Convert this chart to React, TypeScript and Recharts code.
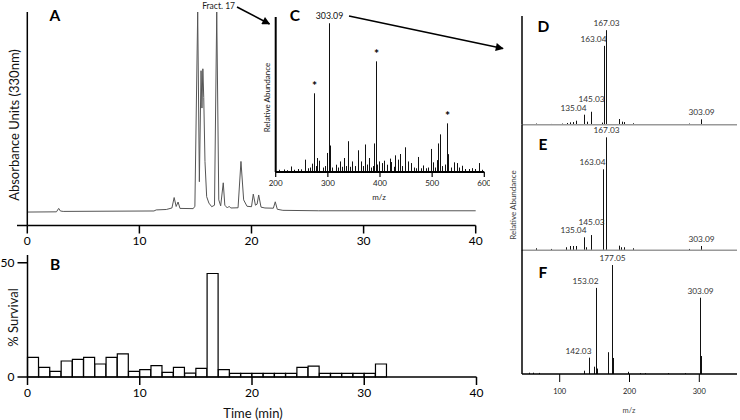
import { LineChart, Line, BarChart, Bar, XAxis, YAxis, LabelList } from "recharts";

const FONT = "Lato, 'Open Sans', sans-serif";

// A - UV trace at 330 nm (time in min, absorbance in arbitrary units)
const traceTime = [
  0, 2.6, 2.8, 2.95, 3.2, 11.3, 11.5, 12.4, 12.9, 13.1, 13.28, 13.45, 13.62, 14.8, 14.95,
  15.2, 15.35, 15.5, 15.58, 15.66, 15.74, 15.85, 16.0, 16.2, 16.45, 16.7, 16.9, 17.08, 17.25,
  17.48, 17.62, 17.85, 18.0, 18.15, 18.8, 19.06, 19.3, 19.6, 20.0, 20.16, 20.35, 20.5, 20.64,
  20.85, 21.2, 21.95, 22.12, 22.3, 22.8, 26, 40,
];
const traceAbs = [
  6.3, 6.4, 8.0, 6.8, 6.6, 6.8, 7.3, 7.5, 8.2, 13.1, 8.9, 11.0, 8.0, 7.9, 9.0,
  100, 20.5, 72.5, 55, 73.4, 60, 30, 13.5, 10.5, 8.8, 9.5, 100, 12, 9.2,
  20, 9.5, 8.2, 9.0, 8.2, 8.3, 30, 12, 9.0, 8.8, 14.7, 9.5, 10, 14.3,
  8.6, 8.2, 8.1, 11.1, 7.6, 7.1, 6.9, 6.9,
];

// B - % survival per 1-min fraction
const fractionStart = [
  0, 1, 2, 3, 4, 5, 6, 7, 8, 9, 10, 11, 12, 13, 14, 15,
  16, 17, 18, 19, 20, 21, 22, 23, 24, 25, 26, 27, 28, 29, 30, 31,
];
const survival = [
  8.6, 4.2, 2.5, 7.0, 7.7, 8.6, 5.7, 8.6, 10.1, 2.5, 3.2, 5.0, 2.0, 4.2, 1.7, 3.8,
  45.3, 3.2, 1.6, 1.6, 1.6, 1.6, 1.6, 1.6, 4.2, 4.8, 1.6, 1.6, 1.6, 1.6, 1.6, 5.7,
];

// C - full scan of fraction 17
const cMz = [
  207, 216, 222, 229, 236, 243, 249, 256, 262, 266, 270, 274, 277, 279, 284, 290, 295, 299,
  303, 305, 309, 315, 319, 323, 327, 331, 335, 338, 343, 347, 352, 358, 364, 368, 371, 375,
  379, 383, 386, 389, 392, 395, 398, 403, 408, 414, 419, 422, 426, 429, 434, 438, 443, 448,
  454, 459, 465, 469, 473, 478, 483, 488, 493, 498, 501, 505, 509, 512, 515, 519, 524, 528,
  530, 537, 542, 547, 552, 557, 564, 570, 576, 583, 590, 596,
];
const cInt = [
  1.5, 1.7, 1.2, 3.7, 1.5, 2, 1.8, 8.3, 2.5, 3, 5.6, 52.9, 4, 9.4, 7.6, 3, 4, 12.8,
  100, 17.8, 3, 4.9, 3, 7.1, 3.5, 9.4, 4, 20.7, 3.5, 7.1, 4, 14.6, 7.1, 4, 18.5, 5,
  9.4, 3, 4, 19.2, 74.4, 5, 7.1, 6, 7.6, 4.9, 9, 6.7, 3.5, 11.2, 8.3, 12.1, 4, 16.6,
  7.1, 6, 3, 2.5, 10.1, 2.5, 4.4, 2.5, 3, 15.5, 6.5, 3, 8, 19.2, 25.3, 4, 5, 32.7,
  12, 3, 6.5, 6, 3, 4.2, 2, 2, 2.6, 2, 6, 1.5,
];
const cTags: Record<number, string> = { 274: "*", 303: "303.09", 392: "*", 528: "*" };

// D / E / F - MS/MS spectra
const dMz = [66, 88, 103.5, 111, 115.5, 119, 124, 135.04, 138.5, 145.03, 160, 163.04, 167.03, 185, 188.7, 192.4, 205.5, 229.5, 261, 286, 303.09];
const dInt = [1.2, 0.8, 1.2, 1.8, 2.5, 2.8, 4.2, 10.6, 3.2, 13.7, 2.2, 83.4, 100, 6, 3.2, 2.8, 1.5, 0.7, 0.7, 1.2, 5.7];
const eMz = [66, 88, 110, 115, 120, 124, 135.04, 138.5, 145.03, 163.04, 167.03, 185, 188.7, 192.4, 205.5, 286, 303.09];
const eInt = [1.8, 1.2, 2.7, 3.8, 3.8, 3.8, 11.5, 2.7, 13.5, 71.7, 100, 4.1, 2.7, 2.7, 1.8, 1.2, 3.8];
const deTags: Record<number, string> = { 135.04: "135.04", 145.03: "145.03", 163.04: "163.04", 167.03: "167.03", 303.09: "303.09" };
const fMz = [56, 62, 70, 134.3, 142.2, 149.5, 151.6, 153.5, 168.6, 174.4, 176.4, 198.6, 215, 222, 255, 280, 301.5, 302.8];
const fInt = [1.2, 1.2, 1, 3, 15, 6.7, 79, 5, 20, 100, 14.7, 2, 0.8, 0.8, 0.8, 0.8, 70, 16.5];
const fTags: Record<number, string> = { 142.2: "142.03", 151.6: "153.02", 174.4: "177.05", 301.5: "303.09" };

const toRows = (mz: number[], v: number[], tags: Record<number, string>) =>
  mz.map((m, i) => ({ mz: m, v: v[i], tag: tags[m] ?? "" }));

const traceRows = traceTime.map((t, i) => ({ t, a: traceAbs[i] }));
const survivalRows = fractionStart.map((s, i) => ({ t: s + 0.5, s: survival[i] }));
const cRows = toRows(cMz, cInt, cTags);
const dRows = toRows(dMz, dInt, deTags);
const eRows = toRows(eMz, eInt, deTags);
const fRows = toRows(fMz, fInt, fTags);

const alignEnd = new Set(["163.04", "135.04", "142.03", "153.02"]);
const extraLift: Record<string, number> = { "145.03": 6 };

function Stick(props: any) {
  const { x, y, width, height } = props;
  if (x == null || height == null) return null;
  const cx = Math.round(x + width / 2) + 0.5;
  return <line x1={cx} x2={cx} y1={y} y2={y + height} stroke="#111" strokeWidth={1} />;
}

function makeTag(size: number, color: string) {
  return (p: any) => {
    const text = p.value;
    if (!text) return null;
    const vb = p.viewBox ?? p;
    const cx = Math.round(vb.x + vb.width / 2) + 0.5;
    const top = Math.min(vb.y, vb.y + vb.height);
    if (text === "*") {
      return (
        <text x={cx} y={top - 3} textAnchor="middle" fontSize={12} fontWeight={700} fill="#000" fontFamily={FONT}>
          *
        </text>
      );
    }
    const end = alignEnd.has(text);
    return (
      <text
        x={end ? cx + 2 : cx}
        y={top - 4 - (extraLift[text] ?? 0)}
        textAnchor={end ? "end" : "middle"}
        fontSize={size}
        fill={color}
        fontFamily={FONT}
      >
        {text}
      </text>
    );
  };
}

const box = (left: number, top: number): React.CSSProperties => ({ position: "absolute", left, top });

// bare vertical axis: one pixel wide box so the line is still drawn
const bareY = (max: number, sw: number) => (
  <YAxis width={1} domain={[0, max]} tick={false} tickLine={false} axisLine={{ stroke: "#000", strokeWidth: sw }} />
);

function MsPanel({ rows, top, height, yMax, axisH, last }: any) {
  return (
    <div style={box(490, top)}>
      <BarChart width={250} height={height} data={rows} margin={{ top: 0, right: 3, bottom: 0, left: 31 }}>
        <XAxis
          dataKey="mz"
          type="number"
          domain={[46, 354]}
          ticks={[100, 200, 300]}
          interval={0}
          height={axisH}
          tick={last ? { fontSize: 7.5, fill: "#222", fontFamily: FONT } : false}
          tickLine={last ? { stroke: "#000", strokeWidth: 1 } : false}
          tickSize={8}
          tickMargin={7}
          axisLine={{ stroke: last ? "#000" : "#999", strokeWidth: 1.5 }}
        />
        {bareY(yMax, 1.5)}
        <Bar dataKey="v" barSize={2} shape={<Stick />} isAnimationActive={false}>
          <LabelList dataKey="tag" content={makeTag(8.3, "#333")} />
        </Bar>
      </BarChart>
    </div>
  );
}

export default function App() {
  return (
    <div style={{ position: "absolute", left: 0, top: 0, width: 740, height: 420, background: "#fff", fontFamily: FONT }}>
      {/* A */}
      <div style={box(0, 0)}>
        <LineChart width={490} height={255} data={traceRows} margin={{ top: 12, right: 14.3, bottom: 0, left: 26.3 }}>
          <XAxis
            dataKey="t"
            type="number"
            domain={[0, 40]}
            ticks={[0, 10, 20, 30, 40]}
            interval={0}
            height={29.5}
            tickSize={8}
            tickMargin={3}
            tick={{ fontSize: 12, fill: "#000", fontFamily: FONT }}
            tickLine={{ stroke: "#000", strokeWidth: 1.5 }}
            axisLine={{ stroke: "#000", strokeWidth: 1.5 }}
          />
          {bareY(100, 1.5)}
          <Line dataKey="a" type="linear" dot={false} stroke="#555" strokeWidth={1} isAnimationActive={false} />
        </LineChart>
      </div>

      {/* B */}
      <div style={box(0, 250)}>
        <BarChart width={490} height={170} data={survivalRows} margin={{ top: 5, right: 13.5, bottom: 0, left: 0 }}>
          <XAxis
            dataKey="t"
            type="number"
            domain={[0, 40]}
            ticks={[0, 10, 20, 30, 40]}
            interval={0}
            height={43}
            tickSize={8}
            tickMargin={3}
            tick={{ fontSize: 12, fill: "#000", fontFamily: FONT }}
            tickLine={{ stroke: "#000", strokeWidth: 1.5 }}
            axisLine={{ stroke: "#000", strokeWidth: 1.5 }}
          />
          <YAxis
            width={27.5}
            domain={[0, 53.4]}
            ticks={[0, 50]}
            interval={0}
            tickSize={10}
            tickMargin={3}
            tick={{ fontSize: 12, fill: "#000", fontFamily: FONT }}
            tickLine={{ stroke: "#000", strokeWidth: 1.5 }}
            axisLine={{ stroke: "#000", strokeWidth: 1.5 }}
          />
          <Bar dataKey="s" barSize={11} fill="#fff" stroke="#000" strokeWidth={1.2} isAnimationActive={false} />
        </BarChart>
      </div>

      {/* C */}
      <div style={box(260, 0)}>
        <BarChart width={230} height={205} data={cRows} margin={{ top: 17, right: 5.7, bottom: 0, left: 14.7 }}>
          <XAxis
            dataKey="mz"
            type="number"
            domain={[200, 600]}
            ticks={[200, 300, 400, 500, 600]}
            interval={0}
            height={33}
            tickSize={5}
            tickMargin={3}
            tick={{ fontSize: 8, fill: "#222", fontFamily: FONT }}
            tickLine={{ stroke: "#000", strokeWidth: 1.2 }}
            axisLine={{ stroke: "#000", strokeWidth: 2 }}
          />
          {bareY(104.2, 2)}
          <Bar dataKey="v" barSize={2} shape={<Stick />} isAnimationActive={false}>
            <LabelList dataKey="tag" content={makeTag(8.8, "#111")} />
          </Bar>
        </BarChart>
      </div>

      {/* D, E, F */}
      <MsPanel rows={dRows} top={16} height={114} yMax={115} axisH={5.3} />
      <MsPanel rows={eRows} top={125} height={130} yMax={110.9} axisH={4.7} />
      <MsPanel rows={fRows} top={250} height={170} yMax={113.8} axisH={46} last />

      <svg width={740} height={420} style={{ position: "absolute", left: 0, top: 0, pointerEvents: "none" }} fontFamily={FONT}>
        <defs>
          <marker id="ah" viewBox="0 0 10 10" refX="9" refY="5" markerWidth="9" markerHeight="8" markerUnits="userSpaceOnUse" orient="auto">
            <path d="M0,0 L10,5 L0,10 z" fill="#000" />
          </marker>
        </defs>
        <line x1={17} y1={225.5} x2={27.3} y2={225.5} stroke="#000" strokeWidth={1.5} />

        <g fontWeight={700} fontSize={15.5} textAnchor="middle" fill="#000">
          <text x={55} y={21}>A</text>
          <text x={55} y={270}>B</text>
          <text x={295} y={20.5}>C</text>
          <text x={543.5} y={32}>D</text>
          <text x={543} y={149.5}>E</text>
          <text x={543} y={277.5}>F</text>
        </g>

        <text x={235} y={8.5} textAnchor="end" fontSize={8.5} fill="#222">Fract. 17</text>
        <line x1={237} y1={7} x2={269.5} y2={24} stroke="#000" strokeWidth={1.6} markerEnd="url(#ah)" />
        <line x1={349} y1={16} x2={503} y2={48.5} stroke="#000" strokeWidth={1.6} markerEnd="url(#ah)" />

        <text transform="translate(14,125) rotate(-90)" textAnchor="middle" dominantBaseline="central" fontSize={13} fill="#111">
          Absorbance Units (330nm)
        </text>
        <text transform="translate(13,317.5) rotate(-90)" textAnchor="middle" dominantBaseline="central" fontSize={13} fill="#111">
          % Survival
        </text>
        <text x={253} y={413} textAnchor="middle" dominantBaseline="central" fontSize={13} fill="#111">
          Time (min)
        </text>
        <text transform="translate(266.5,97.5) rotate(-90)" textAnchor="middle" dominantBaseline="central" fontSize={8} fill="#222">
          Relative Abundance
        </text>
        <text x={379} y={196.5} textAnchor="middle" dominantBaseline="central" fontSize={8} fill="#222">
          m/z
        </text>
        <text transform="translate(512.7,205) rotate(-90)" textAnchor="middle" dominantBaseline="central" fontSize={8} fill="#444">
          Relative Abundance
        </text>
        <text x={629} y={410} textAnchor="middle" dominantBaseline="central" fontSize={7.5} fill="#444">
          m/z
        </text>
      </svg>
    </div>
  );
}
